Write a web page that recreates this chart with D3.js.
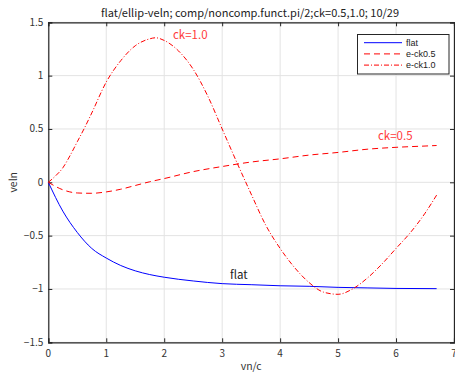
<!DOCTYPE html>
<html>
<head>
<meta charset="utf-8">
<script src="https://cdn.jsdelivr.net/npm/d3@7"></script>
<style>
  html, body { margin: 0; padding: 0; background: #fff; }
  svg { display: block; font-family: "Noto Sans CJK JP", "DejaVu Sans", sans-serif; }
</style>
</head>
<body>
<svg id="chart" width="455" height="372"></svg>
<script>
// Normalized velocity vs vn/c for the flat and elliptic cases
const xFlat   = [0, 0.25, 0.5, 0.75, 1.0, 1.25, 1.5, 1.75, 2.0, 2.5, 3.0, 3.5, 4.0, 4.5, 5.0, 5.5, 6.0, 6.7];
const yFlat   = [0, -0.27, -0.47, -0.62, -0.71, -0.78, -0.83, -0.865, -0.89, -0.925, -0.95, -0.96, -0.97, -0.975, -0.985, -0.99, -0.995, -0.997];

const xCk05   = [0, 0.25, 0.5, 0.75, 1.0, 1.25, 1.5, 1.75, 2.0, 2.5, 3.0, 3.5, 4.0, 4.5, 5.0, 5.5, 6.0, 6.5, 6.7];
const yCk05   = [0, -0.07, -0.10, -0.103, -0.09, -0.065, -0.03, 0.005, 0.035, 0.10, 0.148, 0.19, 0.22, 0.255, 0.28, 0.31, 0.328, 0.34, 0.345];

const xCk10   = [0, 0.125, 0.25, 0.375, 0.5, 0.625, 0.75, 1.0, 1.25, 1.5, 1.75, 1.85, 2.0, 2.25, 2.5, 2.75, 3.0, 3.25, 3.5, 3.75, 4.0, 4.25, 4.5, 4.75, 5.0, 5.25, 5.5, 5.75, 6.0, 6.25, 6.5, 6.7];
const yCk10   = [0, 0.06, 0.135, 0.25, 0.38, 0.51, 0.65, 0.94, 1.14, 1.28, 1.345, 1.355, 1.33, 1.23, 1.06, 0.81, 0.50, 0.19, -0.11, -0.40, -0.62, -0.80, -0.94, -1.03, -1.05, -1.00, -0.90, -0.77, -0.62, -0.47, -0.29, -0.12];

const xTicks = [0, 1, 2, 3, 4, 5, 6, 7];
const yTicks = [-1.5, -1, -0.5, 0, 0.5, 1, 1.5];

const seriesNames = ["flat", "e-ck0.5", "e-ck1.0"];

const titleText = "flat/ellip-veln; comp/noncomp.funct.pi/2;ck=0.5,1.0; 10/29";

const svg = d3.select("#chart");
const margin = { left: 48.3, right: 1, top: 22.3, bottom: 29.7 };
const W = 455, H = 372;
const iw = W - margin.left - margin.right;
const ih = H - margin.top - margin.bottom;

const x = d3.scaleLinear().domain([0, 7]).range([margin.left, margin.left + iw]);
const y = d3.scaleLinear().domain([-1.5, 1.5]).range([margin.top + ih, margin.top]);

// grid
const grid = svg.append("g").attr("stroke", "#e3e3e3").attr("stroke-width", 1);
xTicks.forEach(t => grid.append("line")
  .attr("x1", x(t)).attr("x2", x(t)).attr("y1", y(-1.5)).attr("y2", y(1.5)));
yTicks.forEach(t => grid.append("line")
  .attr("x1", x(0)).attr("x2", x(7)).attr("y1", y(t)).attr("y2", y(t)));

// axes (ticks pointing inward)
const fmt = d => (d < 0 ? "\u2212" + Math.abs(d) : String(d));
const axBottom = svg.append("g").attr("transform", `translate(0,${y(-1.5)})`)
  .call(d3.axisTop(x).tickValues(xTicks).tickSize(4).tickFormat(""));
const axTop = svg.append("g").attr("transform", `translate(0,${y(1.5)})`)
  .call(d3.axisBottom(x).tickValues(xTicks).tickSize(4).tickFormat(""));
const axLeft = svg.append("g").attr("transform", `translate(${x(0)},0)`)
  .call(d3.axisRight(y).tickValues(yTicks).tickSize(4).tickFormat(""));
const axRight = svg.append("g").attr("transform", `translate(${x(7)},0)`)
  .call(d3.axisLeft(y).tickValues(yTicks).tickSize(4).tickFormat(""));
[axBottom, axTop, axLeft, axRight].forEach(g => {
  g.selectAll("path.domain").attr("stroke", "#262626").attr("stroke-width", 1.2);
  g.selectAll(".tick line").attr("stroke", "#262626");
});

// tick labels
svg.append("g").selectAll("text").data(xTicks).join("text")
  .attr("x", d => x(d)).attr("y", y(-1.5) + 15)
  .attr("text-anchor", "middle").attr("font-size", 10).attr("fill", "#333")
  .text(fmt);
svg.append("g").selectAll("text").data(yTicks).join("text")
  .attr("x", x(0) - 5).attr("y", d => y(d) + 3.5)
  .attr("text-anchor", "end").attr("font-size", 10).attr("fill", "#333")
  .text(fmt);

// axis titles
svg.append("text").attr("x", (x(0) + x(7)) / 2).attr("y", 369.5)
  .attr("text-anchor", "middle").attr("font-size", 10.5).attr("fill", "#333").text("vn/c");
svg.append("text").attr("transform", `translate(17,${(y(-1.5) + y(1.5)) / 2}) rotate(-90)`)
  .attr("text-anchor", "middle").attr("font-size", 10.5).attr("fill", "#333").text("veln");
svg.append("text").attr("x", 250).attr("y", 17)
  .attr("text-anchor", "middle").attr("font-size", 11).attr("fill", "#222").text(titleText);

// curves
const line = d3.line().x(d => x(d[0])).y(d => y(d[1])).curve(d3.curveMonotoneX);
const zip = (xs, ys) => xs.map((v, i) => [v, ys[i]]);
const styles = [
  { color: "#0000ff", dash: null },
  { color: "#ff0000", dash: "6,4" },
  { color: "#ff0000", dash: "5,2,1,2" }
];
const data = [zip(xFlat, yFlat), zip(xCk05, yCk05), zip(xCk10, yCk10)];
data.forEach((d, i) => {
  svg.append("path").datum(d).attr("d", line)
    .attr("fill", "none").attr("stroke", styles[i].color).attr("stroke-width", 1)
    .attr("stroke-dasharray", styles[i].dash);
});

// annotations
svg.append("text").attr("x", 173).attr("y", 39).attr("font-size", 11.5).attr("fill", "#ff3b3b").text("ck=1.0");
svg.append("text").attr("x", 378).attr("y", 140).attr("font-size", 11.5).attr("fill", "#ff3b3b").text("ck=0.5");
svg.append("text").attr("x", 230).attr("y", 279).attr("font-size", 11.5).attr("fill", "#222").text("flat");

// legend
const lg = svg.append("g");
lg.append("rect").attr("x", 357.5).attr("y", 34.5).attr("width", 91.5).attr("height", 39.5)
  .attr("fill", "#fff").attr("stroke", "#262626").attr("stroke-width", 1);
seriesNames.forEach((name, i) => {
  const yy = 42.7 + i * 11.2;
  lg.append("line").attr("x1", 364).attr("x2", 402).attr("y1", yy).attr("y2", yy)
    .attr("stroke", styles[i].color).attr("stroke-width", 1)
    .attr("stroke-dasharray", styles[i].dash);
  lg.append("text").attr("x", 406).attr("y", yy + 3.2).attr("font-size", 9)
    .attr("font-family", "'Liberation Sans', Arial, sans-serif").attr("fill", "#222").text(name);
});
</script>
</body>
</html>
